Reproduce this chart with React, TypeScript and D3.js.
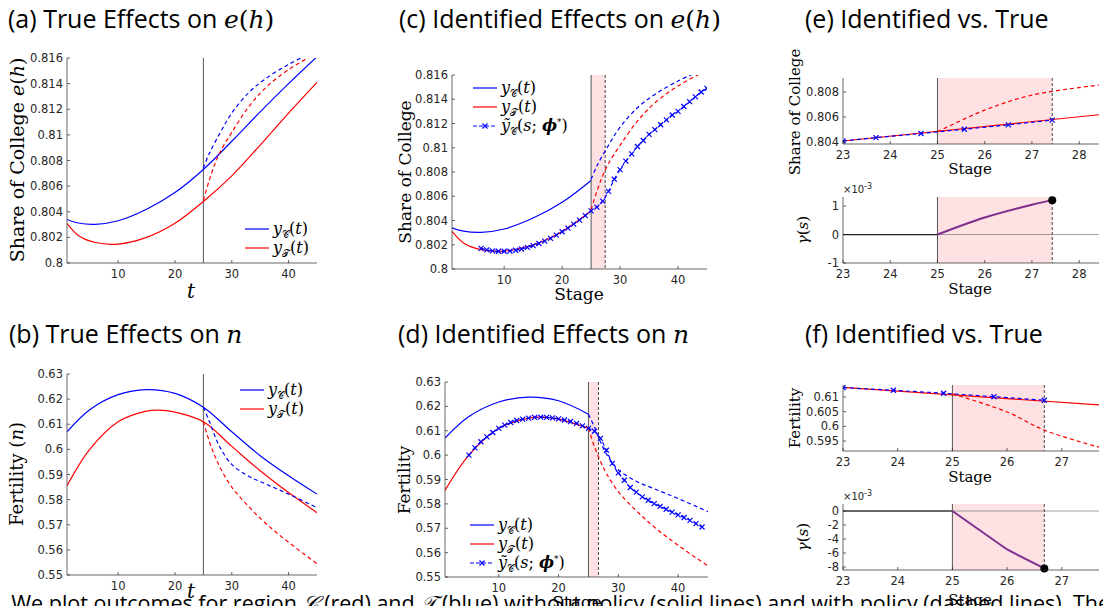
import React from 'react';
import * as d3 from 'd3';

type Pt = [number, number];

// panel (a)/(c): share of college
const eBlue: Pt[] = [[1, 0.8034], [3, 0.80312], [6, 0.80302], [10, 0.8033], [15, 0.8042], [20, 0.8055], [25, 0.8073], [30, 0.8095], [35, 0.8118], [40, 0.8140], [45, 0.8161]];
const eRed: Pt[] = [[1, 0.8031], [3, 0.80215], [6, 0.8016], [10, 0.80148], [15, 0.8020], [20, 0.8031], [25, 0.8048], [30, 0.8068], [35, 0.8092], [40, 0.8117], [45, 0.8141]];
const eBlueDash: Pt[] = [[25, 0.8074], [26, 0.8085], [28, 0.8102], [30, 0.8117], [33, 0.8133], [36, 0.8144], [40, 0.8155], [44, 0.8164]];
const eRedDash: Pt[] = [[25, 0.8049], [26, 0.8064], [27, 0.8077], [28, 0.8087], [30, 0.8102], [33, 0.8122], [36, 0.8137], [40, 0.8151], [45, 0.8164]];
const eMarks: Pt[] = [[6, 0.8017], [7, 0.80158], [8, 0.8015], [9, 0.80146], [10, 0.80146], [11, 0.80148], [12, 0.80155], [13, 0.80165], [14, 0.80178], [15, 0.80193], [16, 0.8021], [17, 0.8023], [18, 0.80252], [19, 0.8028], [20, 0.80307], [21, 0.80337], [22, 0.8037], [23, 0.80403], [24, 0.8044], [25, 0.8048], [26, 0.8051], [27, 0.8056], [28, 0.8064], [29, 0.8074], [30, 0.8082], [31, 0.8089], [32, 0.8095], [33, 0.8101], [34, 0.8106], [35, 0.8111], [36, 0.8115], [37, 0.8119], [38, 0.8123], [39, 0.8127], [40, 0.8130], [41, 0.8134], [42, 0.8138], [43, 0.8142], [44, 0.8146], [45, 0.8149]];

// panel (b)/(d): fertility
const nBlue: Pt[] = [[1, 0.607], [5, 0.6158], [10, 0.6218], [15, 0.6238], [20, 0.6223], [25, 0.6168], [30, 0.607], [35, 0.5975], [40, 0.5895], [45, 0.5822]];
const nRed: Pt[] = [[1, 0.5855], [5, 0.6], [10, 0.611], [15, 0.6152], [17, 0.6156], [20, 0.6148], [25, 0.611], [30, 0.6012], [35, 0.5915], [40, 0.5828], [45, 0.5748]];
const nBlueDash: Pt[] = [[25, 0.6168], [26, 0.6115], [27, 0.6055], [28, 0.6005], [30, 0.5940], [33, 0.5893], [36, 0.5862], [40, 0.5822], [45, 0.5768]];
const nRedDash: Pt[] = [[25, 0.611], [26, 0.6035], [27, 0.5975], [28, 0.5925], [30, 0.5850], [33, 0.5772], [36, 0.5705], [40, 0.5630], [45, 0.5545]];
const nMarks: Pt[] = [[5, 0.6], [6, 0.603], [7, 0.6055], [8, 0.6075], [9, 0.6093], [10, 0.611], [11, 0.6123], [12, 0.6134], [13, 0.6142], [14, 0.6148], [15, 0.6152], [16, 0.6155], [17, 0.6156], [18, 0.6155], [19, 0.6153], [20, 0.6149], [21, 0.6144], [22, 0.6138], [23, 0.613], [24, 0.612], [25, 0.611], [26, 0.6098], [27, 0.6069], [28, 0.602], [29, 0.5966], [30, 0.5927], [31, 0.5897], [32, 0.5867], [33, 0.5848], [34, 0.5829], [35, 0.5815], [36, 0.5801], [37, 0.579], [38, 0.5778], [39, 0.5766], [40, 0.5755], [41, 0.5744], [42, 0.5732], [43, 0.5719], [44, 0.5705]];

// panel (e)
const eZoomRed: Pt[] = [[23, 0.80408], [28.42, 0.80618]];
const eZoomRedDash: Pt[] = [[25, 0.80482], [26, 0.80655], [27, 0.80775], [28.42, 0.80855]];
const eZoomMarks: Pt[] = [[23, 0.80408], [23.7, 0.80435], [24.65, 0.80468], [25.57, 0.80502], [26.5, 0.80537], [27.43, 0.80575]];
const eGamma: Pt[] = [[25, 0], [26, 0.6], [27, 1.05], [27.43, 1.21]];

// panel (f)
const nZoomRed: Pt[] = [[23, 0.6133], [27.68, 0.6073]];
const nZoomRedDash: Pt[] = [[25, 0.6111], [26, 0.6049], [26.68, 0.5987], [27.68, 0.5929]];
const nZoomMarks: Pt[] = [[23, 0.6132], [23.92, 0.6123], [24.84, 0.6113], [25.76, 0.6101], [26.68, 0.6089]];
const nGamma: Pt[] = [[25, 0], [26, -5.5], [26.68, -8.2]];

const BLUE = '#0000ff', RED = '#ff0000', PURPLE = '#7e2f8e', PINK = '#fde1e3', AX = '#262626';
const TICKF = 'DejaVu Sans, sans-serif';
const SERIF = 'DejaVu Serif, Liberation Serif, serif';
const SANS = 'Open Sans, DejaVu Sans, sans-serif';

interface Series { pts: Pt[]; color: string; dash?: boolean; marks?: boolean; width?: number; smooth?: boolean; }
interface PanelProps {
  x0: number; x1: number; y0: number; y1: number;
  xd: [number, number]; yd: [number, number];
  xt: number[]; yt: number[]; fmt?: (v: number) => string;
  series: Series[];
  shade?: [number, number]; vline?: number; vdash?: number;
  zero?: boolean; dot?: Pt; expo?: boolean; id: string; tf?: number;
}

const Panel: React.FC<PanelProps> = (p) => {
  const x = d3.scaleLinear().domain(p.xd).range([p.x0, p.x1]);
  const y = d3.scaleLinear().domain(p.yd).range([p.y1, p.y0]);
  const fmt = p.fmt ?? ((v: number) => String(+v.toFixed(4)));
  const tf = p.tf ?? 11.5;
  return (
    <g>
      <defs>
        <clipPath id={p.id}><rect x={p.x0} y={p.y0} width={p.x1 - p.x0} height={p.y1 - p.y0} /></clipPath>
      </defs>
      {p.shade && <rect x={x(p.shade[0])} y={p.y0} width={x(p.shade[1]) - x(p.shade[0])} height={p.y1 - p.y0} fill={PINK} />}
      {p.zero && <line x1={p.x0} x2={p.x1} y1={y(0)} y2={y(0)} stroke="#888" strokeWidth={0.8} />}
      {p.vline !== undefined && <line x1={x(p.vline)} x2={x(p.vline)} y1={p.y0} y2={p.y1} stroke="#555" strokeWidth={1} />}
      {p.vdash !== undefined && <line x1={x(p.vdash)} x2={x(p.vdash)} y1={p.y0} y2={p.y1} stroke="#444" strokeWidth={1} strokeDasharray="3,2" />}
      <g clipPath={`url(#${p.id})`}>
        {p.series.map((s, i) => {
          const line = d3.line<Pt>().x(d => x(d[0])).y(d => y(d[1])).curve(s.smooth === false ? d3.curveLinear : d3.curveCatmullRom.alpha(0.5));
          return (
            <g key={i}>
              <path d={line(s.pts) ?? ''} fill="none" stroke={s.color} strokeWidth={s.width ?? 1.2} strokeDasharray={s.dash ? '4,3' : undefined} />
              {s.marks && s.pts.map((d, j) => (
                <path key={j} d={`M${x(d[0]) - 2.5},${y(d[1]) - 2.5}l5,5M${x(d[0]) - 2.5},${y(d[1]) + 2.5}l5,-5`} stroke={s.color} strokeWidth={1.2} />
              ))}
            </g>
          );
        })}
      </g>
      {p.dot && <circle cx={x(p.dot[0])} cy={y(p.dot[1])} r={4} fill="#000" />}
      <line x1={p.x0} x2={p.x1} y1={p.y1} y2={p.y1} stroke={AX} strokeWidth={0.7} />
      <line x1={p.x0} x2={p.x0} y1={p.y0} y2={p.y1} stroke={AX} strokeWidth={0.7} />
      {p.xt.map(t => (
        <g key={'x' + t}>
          <line x1={x(t)} x2={x(t)} y1={p.y1} y2={p.y1 - 3} stroke={AX} strokeWidth={0.7} />
          <text x={x(t)} y={p.y1 + tf + 3} textAnchor="middle" fontSize={tf} fontFamily={TICKF} fill={AX}>{t}</text>
        </g>
      ))}
      {p.yt.map(t => (
        <g key={'y' + t}>
          <line x1={p.x0} x2={p.x0 + 3} y1={y(t)} y2={y(t)} stroke={AX} strokeWidth={0.7} />
          <text x={p.x0 - 4} y={y(t) + 4} textAnchor="end" fontSize={tf} fontFamily={TICKF} fill={AX}>{fmt(t)}</text>
        </g>
      ))}
      {p.expo && <text x={p.x0} y={p.y0 - 4} fontSize={10} fontFamily={TICKF} fill={AX}>×10<tspan dy={-4} fontSize={8}>-3</tspan></text>}
    </g>
  );
};

const YC = () => (<><tspan fontStyle="italic">y</tspan><tspan fontSize={10} dy={4}>𝒞</tspan><tspan dy={-4}>(</tspan><tspan fontStyle="italic">t</tspan>)</>);
const YT = () => (<><tspan fontStyle="italic">y</tspan><tspan fontSize={10} dy={4}>𝒯</tspan><tspan dy={-4}>(</tspan><tspan fontStyle="italic">t</tspan>)</>);
const YS = () => (<><tspan fontStyle="italic">ỹ</tspan><tspan fontSize={10} dy={4}>𝒞</tspan><tspan dy={-4}>(</tspan><tspan fontStyle="italic">s</tspan>; <tspan fontWeight="bold" fontStyle="italic">ϕ</tspan><tspan fontSize={9} dy={-6}>*</tspan><tspan dy={6}>)</tspan></>);

const Legend: React.FC<{ x: number; y: number; items: number }> = ({ x, y, items }) => {
  const rows = [
    { c: BLUE, t: <YC />, dash: false },
    { c: RED, t: <YT />, dash: false },
    { c: BLUE, t: <YS />, dash: true },
  ].slice(0, items);
  return (
    <g>
      {rows.map((r, i) => (
        <g key={i} transform={`translate(${x},${y + i * 19})`}>
          <line x1={0} x2={24} y1={0} y2={0} stroke={r.c} strokeWidth={1.2} strokeDasharray={r.dash ? '4,2' : undefined} />
          {r.dash && <path d="M9.5,-2.5l5,5M9.5,2.5l5,-5" stroke={BLUE} strokeWidth={1.1} />}
          <text x={28} y={5} fontSize={16} fontFamily={SERIF}>{r.t}</text>
        </g>
      ))}
    </g>
  );
};

const Title: React.FC<{ x: number; y: number; lab: string; math?: React.ReactNode }> = ({ x, y, lab, math }) => (
  <text x={x} y={y} fontSize={25} fontFamily={SANS} fill="#000">{lab}{math}</text>
);

const YLab: React.FC<{ x: number; y: number; size?: number; children: React.ReactNode }> = ({ x, y, size = 16, children }) => (
  <text transform={`translate(${x},${y}) rotate(-90)`} textAnchor="middle" fontSize={size} fontFamily={SERIF}>{children}</text>
);
const XLab: React.FC<{ x: number; y: number; size?: number; children: React.ReactNode }> = ({ x, y, size = 16, children }) => (
  <text x={x} y={y} textAnchor="middle" fontSize={size} fontFamily={SERIF}>{children}</text>
);

const eTicks = [0.8, 0.802, 0.804, 0.806, 0.808, 0.81, 0.812, 0.814, 0.816];
const nTicks = [0.55, 0.56, 0.57, 0.58, 0.59, 0.6, 0.61, 0.62, 0.63];
const stageTicks = [10, 20, 30, 40];
const EH = <tspan fontFamily={SERIF} fontStyle="italic" fontSize={25}>e<tspan fontStyle="normal">(</tspan>h<tspan fontStyle="normal">)</tspan></tspan>;
const N = <tspan fontFamily={SERIF} fontStyle="italic" fontSize={25}>n</tspan>;

export default function App() {
  return (
    <svg width={1111} height={614} style={{ display: 'block', margin: -8, background: '#fff' }}>
      <Title x={8} y={28} lab="(a) True Effects on " math={EH} />
      <Title x={399} y={28} lab="(c) Identified Effects on " math={EH} />
      <Title x={805} y={28} lab="(e) Identified vs. True" />
      <Title x={9} y={343} lab="(b) True Effects on " math={N} />
      <Title x={398} y={343} lab="(d) Identified Effects on " math={N} />
      <Title x={805} y={343} lab="(f) Identified vs. True" />

      {/* (a) */}
      <Panel id="ca" x0={67} x1={317} y0={58} y1={263} xd={[1, 45]} yd={[0.8, 0.816]} xt={stageTicks} yt={eTicks} vline={25}
        series={[{ pts: eBlue, color: BLUE }, { pts: eRed, color: RED }, { pts: eBlueDash, color: BLUE, dash: true }, { pts: eRedDash, color: RED, dash: true }]} />
      <Legend x={245} y={229} items={2} />
      <YLab x={24} y={160} size={19}>Share of College <tspan fontStyle="italic">e</tspan>(<tspan fontStyle="italic">h</tspan>)</YLab>
      <XLab x={191} y={298} size={20}><tspan fontStyle="italic">t</tspan></XLab>

      {/* (c) */}
      <Panel id="cc" x0={452} x1={707} y0={75} y1={269} xd={[1, 45]} yd={[0.8, 0.816]} xt={stageTicks} yt={eTicks} shade={[25, 27.43]} vline={25} vdash={27.43}
        series={[{ pts: eBlue.filter(d => d[0] <= 25), color: BLUE }, { pts: eRed.filter(d => d[0] <= 25), color: RED }, { pts: eBlueDash, color: BLUE, dash: true }, { pts: eRedDash, color: RED, dash: true }, { pts: eMarks, color: BLUE, dash: true, marks: true }]} />
      <Legend x={473} y={88} items={3} />
      <YLab x={411} y={172} size={17}>Share of College</YLab>
      <XLab x={579} y={300} size={17}>Stage</XLab>

      {/* (b) */}
      <Panel id="cb" x0={67} x1={317} y0={374} y1={575} xd={[1, 45]} yd={[0.55, 0.63]} xt={stageTicks} yt={nTicks} vline={25}
        series={[{ pts: nBlue, color: BLUE }, { pts: nRed, color: RED }, { pts: nBlueDash, color: BLUE, dash: true }, { pts: nRedDash, color: RED, dash: true }]} />
      <Legend x={240} y={390} items={2} />
      <YLab x={23} y={474} size={18}>Fertility (<tspan fontStyle="italic">n</tspan>)</YLab>
      <XLab x={191} y={598} size={20}><tspan fontStyle="italic">t</tspan></XLab>

      {/* (d) */}
      <Panel id="cd" x0={445} x1={708} y0={382} y1={577} xd={[1, 45]} yd={[0.55, 0.63]} xt={stageTicks} yt={nTicks} shade={[25, 26.68]} vline={25} vdash={26.68}
        series={[{ pts: nBlue.filter(d => d[0] <= 25), color: BLUE }, { pts: nRed.filter(d => d[0] <= 25), color: RED }, { pts: nBlueDash, color: BLUE, dash: true }, { pts: nRedDash, color: RED, dash: true }, { pts: nMarks, color: BLUE, dash: true, marks: true }]} />
      <Legend x={470} y={525} items={3} />
      <YLab x={410} y={480} size={17}>Fertility</YLab>
      <XLab x={577} y={608} size={17}>Stage</XLab>

      {/* (e) top */}
      <Panel id="ce1" x0={843} x1={1099} y0={78} y1={144} xd={[23, 28.42]} yd={[0.80384, 0.80912]} xt={[23, 24, 25, 26, 27, 28]} yt={[0.804, 0.806, 0.808]} fmt={v => v.toFixed(3)}
        shade={[25, 27.43]} vline={25} vdash={27.43}
        series={[{ pts: eZoomRed, color: RED, smooth: false }, { pts: eZoomRedDash, color: RED, dash: true }, { pts: eZoomMarks, color: BLUE, dash: true, marks: true, smooth: false }]} />
      <YLab x={800} y={112} size={15}>Share of College</YLab>
      <XLab x={970} y={174} size={15}>Stage</XLab>
      {/* (e) bottom */}
      <Panel id="ce2" x0={843} x1={1099} y0={197} y1={263} xd={[23, 28.42]} yd={[-1, 1.32]} xt={[23, 24, 25, 26, 27, 28]} yt={[-1, 0, 1]} fmt={v => String(v)}
        shade={[25, 27.43]} vline={25} vdash={27.43} zero expo dot={eGamma[eGamma.length - 1]}
        series={[{ pts: [[23, 0], [25, 0]], color: '#222', smooth: false }, { pts: eGamma, color: PURPLE, width: 2 }]} />
      <YLab x={808} y={230} size={15}><tspan fontStyle="italic">γ</tspan>(<tspan fontStyle="italic">s</tspan>)</YLab>
      <XLab x={970} y={294} size={15}>Stage</XLab>

      {/* (f) top */}
      <Panel id="cf1" x0={843} x1={1099} y0={385} y1={451} xd={[23, 27.68]} yd={[0.5916, 0.6141]} xt={[23, 24, 25, 26, 27]} yt={[0.595, 0.6, 0.605, 0.61]} fmt={v => String(+v.toFixed(3))}
        shade={[25, 26.68]} vline={25} vdash={26.68}
        series={[{ pts: nZoomRed, color: RED, smooth: false }, { pts: nZoomRedDash, color: RED, dash: true }, { pts: nZoomMarks, color: BLUE, dash: true, marks: true, smooth: false }]} />
      <YLab x={800} y={418} size={15}>Fertility</YLab>
      <XLab x={970} y={482} size={15}>Stage</XLab>
      {/* (f) bottom */}
      <Panel id="cf2" x0={843} x1={1099} y0={504} y1={570} xd={[23, 27.68]} yd={[-8.43, 1]} xt={[23, 24, 25, 26, 27]} yt={[0, -2, -4, -6, -8]} fmt={v => String(v)}
        shade={[25, 26.68]} vline={25} vdash={26.68} zero expo dot={nGamma[nGamma.length - 1]}
        series={[{ pts: [[23, 0], [25, 0]], color: '#666', width: 2, smooth: false }, { pts: nGamma, color: PURPLE, width: 2, smooth: false }]} />
      <YLab x={808} y={537} size={15}><tspan fontStyle="italic">γ</tspan>(<tspan fontStyle="italic">s</tspan>)</YLab>
      <XLab x={970} y={605} size={15}>Stage</XLab>

      <text x={0} y={611} fontSize={21.5} fontFamily={SANS}>: We plot outcomes for region <tspan fontFamily={SERIF} fontStyle="italic">𝒞</tspan> (red) and <tspan fontFamily={SERIF} fontStyle="italic">𝒯</tspan> (blue) without policy (solid lines) and with policy (dashed lines). The</text>
    </svg>
  );
}
